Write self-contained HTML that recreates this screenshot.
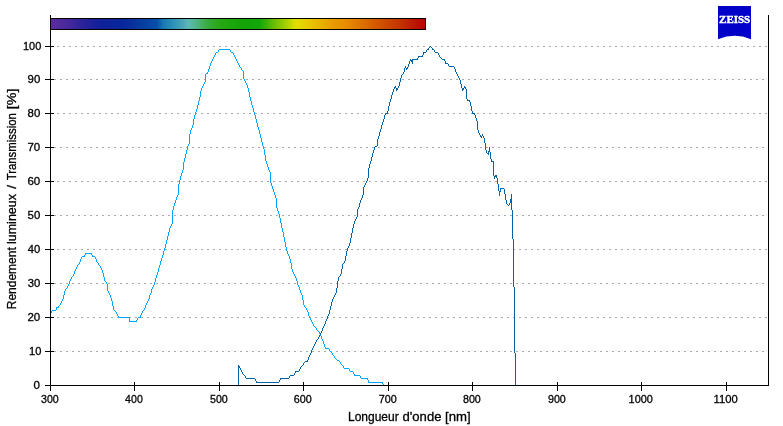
<!DOCTYPE html>
<html lang="fr">
<head>
<meta charset="utf-8">
<title>Rendement lumineux / Transmission</title>
<style>
html,body{margin:0;padding:0;background:#fff;}
body{width:783px;height:426px;overflow:hidden;}
svg{display:block;font-family:"Liberation Sans",sans-serif;}
.tick{font-size:11.4px;fill:#000;stroke:#000;stroke-width:0.3px;}
.title{font-size:13.1px;fill:#000;stroke:#000;stroke-width:0.3px;}
</style>
</head>
<body>
<svg width="783" height="426" viewBox="0 0 783 426">
<rect x="0" y="0" width="783" height="426" fill="#fff"/>
<defs>
<linearGradient id="spec" gradientUnits="userSpaceOnUse" x1="51" y1="0" x2="425" y2="0">
<stop offset="0.0000" stop-color="#5c2ca0"/>
<stop offset="0.0374" stop-color="#4a2a9c"/>
<stop offset="0.0775" stop-color="#30249a"/>
<stop offset="0.1310" stop-color="#10209a"/>
<stop offset="0.1979" stop-color="#08289c"/>
<stop offset="0.2594" stop-color="#0644a4"/>
<stop offset="0.2834" stop-color="#0850a8"/>
<stop offset="0.2995" stop-color="#1878b4"/>
<stop offset="0.3235" stop-color="#2890b8"/>
<stop offset="0.3503" stop-color="#48a4b8"/>
<stop offset="0.3663" stop-color="#5cb8b4"/>
<stop offset="0.3904" stop-color="#50b484"/>
<stop offset="0.4144" stop-color="#3cac48"/>
<stop offset="0.4439" stop-color="#2aa81c"/>
<stop offset="0.4786" stop-color="#1ca80c"/>
<stop offset="0.5187" stop-color="#12a408"/>
<stop offset="0.5588" stop-color="#14a808"/>
<stop offset="0.5882" stop-color="#58b808"/>
<stop offset="0.6283" stop-color="#a8d000"/>
<stop offset="0.6551" stop-color="#e0e000"/>
<stop offset="0.6818" stop-color="#e8cc00"/>
<stop offset="0.7246" stop-color="#e8b000"/>
<stop offset="0.7594" stop-color="#e89800"/>
<stop offset="0.7861" stop-color="#e88c00"/>
<stop offset="0.8155" stop-color="#e07c00"/>
<stop offset="0.8529" stop-color="#d86400"/>
<stop offset="0.8824" stop-color="#d05000"/>
<stop offset="0.9118" stop-color="#c84000"/>
<stop offset="0.9385" stop-color="#c03000"/>
<stop offset="0.9706" stop-color="#bc1800"/>
<stop offset="1.0000" stop-color="#b80400"/>
</linearGradient>
</defs>
<g shape-rendering="crispEdges" stroke="#aaaaaa" stroke-width="1" stroke-dasharray="2 4">
<line x1="54" y1="351.5" x2="768" y2="351.5"/>
<line x1="57" y1="317.5" x2="768" y2="317.5"/>
<line x1="54" y1="283.5" x2="768" y2="283.5"/>
<line x1="57" y1="249.5" x2="768" y2="249.5"/>
<line x1="54" y1="215.5" x2="768" y2="215.5"/>
<line x1="57" y1="181.5" x2="768" y2="181.5"/>
<line x1="54" y1="147.5" x2="768" y2="147.5"/>
<line x1="57" y1="113.5" x2="768" y2="113.5"/>
<line x1="54" y1="79.5" x2="768" y2="79.5"/>
<line x1="57" y1="46.5" x2="768" y2="46.5"/>
</g>
<rect x="50" y="18" width="376" height="12" fill="#000" shape-rendering="crispEdges"/>
<rect x="51" y="19" width="374" height="10" fill="url(#spec)" shape-rendering="crispEdges"/>
<path d="M51 311h1v2h-1zM52 310h1v1h-1zM53 310h1v1h-1zM54 310h1v1h-1zM55 310h1v1h-1zM56 307h1v3h-1zM57 307h1v1h-1zM58 306h1v2h-1zM59 305h1v1h-1zM60 303h1v2h-1zM61 301h1v2h-1zM62 299h1v2h-1zM63 295h1v4h-1zM64 291h1v4h-1zM65 289h1v2h-1zM66 288h1v1h-1zM67 286h1v2h-1zM68 284h1v2h-1zM69 281h1v3h-1zM70 279h1v2h-1zM71 277h1v2h-1zM72 276h1v1h-1zM73 274h1v2h-1zM74 271h1v3h-1zM75 269h1v2h-1zM76 267h1v2h-1zM77 265h1v2h-1zM78 264h1v1h-1zM79 262h1v2h-1zM80 259h1v3h-1zM81 257h1v2h-1zM82 256h1v1h-1zM83 256h1v1h-1zM84 255h1v2h-1zM85 253h1v2h-1zM86 253h1v1h-1zM87 253h1v1h-1zM88 253h1v1h-1zM89 253h1v1h-1zM90 253h1v1h-1zM91 253h1v2h-1zM92 255h1v2h-1zM93 256h1v1h-1zM94 256h1v1h-1zM95 257h1v2h-1zM96 259h1v3h-1zM97 262h1v1h-1zM98 263h1v2h-1zM99 265h1v1h-1zM100 266h1v2h-1zM101 268h1v2h-1zM102 270h1v3h-1zM103 273h1v4h-1zM104 277h1v4h-1zM105 281h1v1h-1zM106 282h1v2h-1zM107 284h1v7h-1zM108 291h1v2h-1zM109 293h1v2h-1zM110 295h1v3h-1zM111 298h1v3h-1zM112 301h1v5h-1zM113 306h1v4h-1zM114 310h1v1h-1zM115 311h1v1h-1zM116 312h1v2h-1zM117 314h1v2h-1zM118 316h1v2h-1zM119 317h1v1h-1zM120 317h1v1h-1zM121 317h1v1h-1zM122 317h1v1h-1zM123 317h1v1h-1zM124 317h1v1h-1zM125 317h1v1h-1zM126 317h1v1h-1zM127 317h1v1h-1zM128 317h1v1h-1zM129 317h1v5h-1zM130 321h1v1h-1zM131 321h1v1h-1zM132 321h1v1h-1zM133 321h1v1h-1zM134 321h1v1h-1zM135 321h1v1h-1zM136 320h1v2h-1zM137 318h1v2h-1zM138 317h1v1h-1zM139 317h1v1h-1zM140 315h1v3h-1zM141 313h1v2h-1zM142 311h1v2h-1zM143 310h1v1h-1zM144 308h1v2h-1zM145 305h1v3h-1zM146 303h1v2h-1zM147 301h1v2h-1zM148 299h1v2h-1zM149 295h1v4h-1zM150 293h1v2h-1zM151 289h1v4h-1zM152 287h1v2h-1zM153 285h1v2h-1zM154 282h1v3h-1zM155 278h1v4h-1zM156 275h1v3h-1zM157 272h1v3h-1zM158 268h1v4h-1zM159 265h1v3h-1zM160 261h1v4h-1zM161 258h1v3h-1zM162 255h1v3h-1zM163 251h1v4h-1zM164 248h1v3h-1zM165 244h1v4h-1zM166 240h1v4h-1zM167 236h1v4h-1zM168 232h1v4h-1zM169 228h1v4h-1zM170 226h1v2h-1zM171 224h1v2h-1zM172 210h1v14h-1zM173 206h1v4h-1zM174 203h1v3h-1zM175 200h1v3h-1zM176 197h1v3h-1zM177 195h1v2h-1zM178 184h1v11h-1zM179 180h1v4h-1zM180 176h1v4h-1zM181 173h1v3h-1zM182 170h1v3h-1zM183 162h1v8h-1zM184 158h1v4h-1zM185 154h1v4h-1zM186 150h1v4h-1zM187 146h1v4h-1zM188 144h1v2h-1zM189 134h1v10h-1zM190 130h1v4h-1zM191 128h1v2h-1zM192 125h1v3h-1zM193 119h1v6h-1zM194 115h1v4h-1zM195 112h1v3h-1zM196 109h1v3h-1zM197 105h1v4h-1zM198 101h1v4h-1zM199 97h1v4h-1zM200 91h1v6h-1zM201 88h1v3h-1zM202 86h1v2h-1zM203 84h1v2h-1zM204 82h1v2h-1zM205 74h1v8h-1zM206 73h1v1h-1zM207 72h1v2h-1zM208 69h1v3h-1zM209 66h1v3h-1zM210 63h1v3h-1zM211 61h1v2h-1zM212 59h1v2h-1zM213 57h1v2h-1zM214 55h1v2h-1zM215 53h1v2h-1zM216 52h1v1h-1zM217 52h1v1h-1zM218 50h1v2h-1zM219 49h1v1h-1zM220 49h1v1h-1zM221 49h1v1h-1zM222 49h1v1h-1zM223 49h1v1h-1zM224 49h1v1h-1zM225 49h1v1h-1zM226 49h1v1h-1zM227 49h1v1h-1zM228 49h1v1h-1zM229 49h1v1h-1zM230 50h1v2h-1zM231 52h1v1h-1zM232 52h1v1h-1zM233 53h1v2h-1zM234 55h1v2h-1zM235 57h1v2h-1zM236 59h1v2h-1zM237 61h1v2h-1zM238 63h1v2h-1zM239 65h1v2h-1zM240 67h1v1h-1zM241 68h1v2h-1zM242 70h1v1h-1zM243 71h1v8h-1zM244 79h1v2h-1zM245 81h1v2h-1zM246 83h1v2h-1zM247 85h1v3h-1zM248 88h1v4h-1zM249 92h1v5h-1zM250 97h1v4h-1zM251 101h1v4h-1zM252 105h1v3h-1zM253 108h1v4h-1zM254 112h1v3h-1zM255 115h1v4h-1zM256 119h1v4h-1zM257 123h1v4h-1zM258 127h1v3h-1zM259 130h1v4h-1zM260 134h1v4h-1zM261 138h1v4h-1zM262 142h1v4h-1zM263 146h1v3h-1zM264 149h1v6h-1zM265 155h1v6h-1zM266 161h1v3h-1zM267 164h1v3h-1zM268 167h1v3h-1zM269 170h1v2h-1zM270 172h1v11h-1zM271 183h1v3h-1zM272 186h1v3h-1zM273 189h1v3h-1zM274 192h1v3h-1zM275 195h1v3h-1zM276 198h1v10h-1zM277 208h1v3h-1zM278 211h1v3h-1zM279 214h1v4h-1zM280 218h1v5h-1zM281 223h1v5h-1zM282 228h1v4h-1zM283 232h1v5h-1zM284 237h1v5h-1zM285 242h1v5h-1zM286 247h1v4h-1zM287 251h1v3h-1zM288 254h1v2h-1zM289 256h1v3h-1zM290 259h1v4h-1zM291 263h1v6h-1zM292 269h1v3h-1zM293 272h1v2h-1zM294 274h1v2h-1zM295 276h1v2h-1zM296 278h1v3h-1zM297 281h1v4h-1zM298 285h1v2h-1zM299 287h1v3h-1zM300 290h1v3h-1zM301 293h1v2h-1zM302 295h1v5h-1zM303 300h1v5h-1zM304 305h1v2h-1zM305 307h1v1h-1zM306 308h1v2h-1zM307 310h1v2h-1zM308 312h1v4h-1zM309 316h1v2h-1zM310 318h1v2h-1zM311 320h1v2h-1zM312 322h1v2h-1zM313 324h1v2h-1zM314 326h1v1h-1zM315 327h1v1h-1zM316 328h1v2h-1zM317 330h1v1h-1zM318 331h1v1h-1zM319 332h1v2h-1zM320 334h1v2h-1zM321 336h1v3h-1zM322 339h1v2h-1zM323 341h1v3h-1zM324 344h1v3h-1zM325 347h1v2h-1zM326 348h1v1h-1zM327 348h1v1h-1zM328 348h1v1h-1zM329 349h1v2h-1zM330 351h1v1h-1zM331 352h1v1h-1zM332 353h1v2h-1zM333 355h1v1h-1zM334 356h1v2h-1zM335 358h1v1h-1zM336 359h1v1h-1zM337 360h1v1h-1zM338 360h1v1h-1zM339 361h1v1h-1zM340 362h1v2h-1zM341 364h1v1h-1zM342 365h1v1h-1zM343 366h1v2h-1zM344 368h1v1h-1zM345 368h1v1h-1zM346 368h1v1h-1zM347 368h1v1h-1zM348 368h1v1h-1zM349 369h1v2h-1zM350 371h1v1h-1zM351 371h1v1h-1zM352 371h1v1h-1zM353 372h1v2h-1zM354 374h1v2h-1zM355 375h1v1h-1zM356 375h1v1h-1zM357 375h1v1h-1zM358 375h1v1h-1zM359 375h1v1h-1zM360 376h1v2h-1zM361 378h1v1h-1zM362 378h1v1h-1zM363 378h1v1h-1zM364 378h1v1h-1zM365 378h1v1h-1zM366 378h1v1h-1zM367 378h1v2h-1zM368 380h1v3h-1zM369 382h1v1h-1zM370 382h1v1h-1zM371 382h1v1h-1zM372 382h1v1h-1zM373 382h1v1h-1zM374 382h1v1h-1zM375 382h1v1h-1zM376 382h1v1h-1zM377 382h1v1h-1zM378 382h1v1h-1zM379 382h1v1h-1zM380 382h1v1h-1zM381 382h1v1h-1zM382 382h1v2h-1zM383 384h1v2h-1zM384 385h1v1h-1zM385 385h1v1h-1zM386 385h1v1h-1zM387 385h1v1h-1zM388 385h1v1h-1z" fill="#00a5ff" shape-rendering="crispEdges"/>
<path d="M238 365h1v21h-1zM239 366h1v2h-1zM240 368h1v2h-1zM241 370h1v2h-1zM242 372h1v2h-1zM243 374h1v1h-1zM244 375h1v1h-1zM245 376h1v2h-1zM246 378h1v1h-1zM247 378h1v1h-1zM248 378h1v1h-1zM249 378h1v1h-1zM250 378h1v1h-1zM251 378h1v1h-1zM252 378h1v1h-1zM253 378h1v1h-1zM254 378h1v1h-1zM255 379h1v2h-1zM256 381h1v2h-1zM257 382h1v1h-1zM258 382h1v1h-1zM259 382h1v1h-1zM260 382h1v1h-1zM261 382h1v1h-1zM262 382h1v1h-1zM263 382h1v1h-1zM264 382h1v1h-1zM265 382h1v1h-1zM266 382h1v1h-1zM267 382h1v1h-1zM268 382h1v1h-1zM269 382h1v1h-1zM270 382h1v1h-1zM271 382h1v1h-1zM272 382h1v1h-1zM273 382h1v1h-1zM274 382h1v1h-1zM275 382h1v1h-1zM276 382h1v1h-1zM277 382h1v1h-1zM278 382h1v1h-1zM279 380h1v2h-1zM280 378h1v2h-1zM281 378h1v1h-1zM282 378h1v1h-1zM283 378h1v1h-1zM284 378h1v1h-1zM285 378h1v1h-1zM286 378h1v1h-1zM287 378h1v1h-1zM288 378h1v1h-1zM289 376h1v2h-1zM290 375h1v1h-1zM291 375h1v1h-1zM292 375h1v1h-1zM293 375h1v1h-1zM294 373h1v2h-1zM295 371h1v2h-1zM296 371h1v1h-1zM297 371h1v1h-1zM298 371h1v1h-1zM299 369h1v2h-1zM300 367h1v2h-1zM301 366h1v1h-1zM302 365h1v1h-1zM303 363h1v2h-1zM304 362h1v1h-1zM305 361h1v1h-1zM306 361h1v1h-1zM307 360h1v2h-1zM308 357h1v3h-1zM309 355h1v2h-1zM310 353h1v2h-1zM311 350h1v3h-1zM312 348h1v2h-1zM313 346h1v2h-1zM314 344h1v2h-1zM315 342h1v2h-1zM316 340h1v2h-1zM317 339h1v1h-1zM318 337h1v2h-1zM319 335h1v2h-1zM320 333h1v2h-1zM321 331h1v2h-1zM322 328h1v3h-1zM323 326h1v2h-1zM324 324h1v2h-1zM325 321h1v3h-1zM326 319h1v2h-1zM327 316h1v3h-1zM328 314h1v2h-1zM329 310h1v4h-1zM330 306h1v4h-1zM331 302h1v4h-1zM332 299h1v3h-1zM333 297h1v2h-1zM334 295h1v2h-1zM335 293h1v2h-1zM336 288h1v5h-1zM337 281h1v7h-1zM338 277h1v4h-1zM339 276h1v1h-1zM340 274h1v2h-1zM341 269h1v5h-1zM342 264h1v5h-1zM343 263h1v1h-1zM344 261h1v2h-1zM345 256h1v5h-1zM346 251h1v5h-1zM347 248h1v3h-1zM348 246h1v2h-1zM349 243h1v3h-1zM350 238h1v5h-1zM351 233h1v5h-1zM352 228h1v5h-1zM353 224h1v4h-1zM354 221h1v3h-1zM355 219h1v2h-1zM356 217h1v2h-1zM357 209h1v8h-1zM358 207h1v2h-1zM359 203h1v4h-1zM360 200h1v3h-1zM361 198h1v2h-1zM362 195h1v3h-1zM363 187h1v8h-1zM364 185h1v2h-1zM365 183h1v2h-1zM366 181h1v2h-1zM367 178h1v3h-1zM368 168h1v10h-1zM369 164h1v4h-1zM370 161h1v3h-1zM371 157h1v4h-1zM372 153h1v4h-1zM373 150h1v3h-1zM374 147h1v3h-1zM375 146h1v1h-1zM376 146h1v1h-1zM377 139h1v7h-1zM378 136h1v3h-1zM379 132h1v4h-1zM380 129h1v3h-1zM381 125h1v4h-1zM382 122h1v3h-1zM383 119h1v3h-1zM384 115h1v4h-1zM385 113h1v2h-1zM386 113h1v1h-1zM387 111h1v3h-1zM388 106h1v5h-1zM389 102h1v4h-1zM390 99h1v3h-1zM391 95h1v4h-1zM392 92h1v3h-1zM393 89h1v3h-1zM394 87h1v2h-1zM395 86h1v2h-1zM396 88h1v3h-1zM397 88h1v2h-1zM398 86h1v2h-1zM399 82h1v4h-1zM400 78h1v4h-1zM401 75h1v3h-1zM402 74h1v1h-1zM403 72h1v2h-1zM404 68h1v4h-1zM405 66h1v2h-1zM406 68h1v2h-1zM407 67h1v2h-1zM408 64h1v3h-1zM409 61h1v3h-1zM410 59h1v2h-1zM411 60h1v2h-1zM412 59h1v5h-1zM413 59h1v1h-1zM414 59h1v1h-1zM415 59h1v1h-1zM416 59h1v1h-1zM417 58h1v2h-1zM418 56h1v2h-1zM419 56h1v1h-1zM420 56h1v1h-1zM421 56h1v1h-1zM422 55h1v2h-1zM423 52h1v3h-1zM424 52h1v1h-1zM425 52h1v1h-1zM426 50h1v2h-1zM427 49h1v1h-1zM428 48h1v2h-1zM429 47h1v1h-1zM430 46h1v1h-1zM431 47h1v1h-1zM432 48h1v2h-1zM433 49h1v1h-1zM434 50h1v2h-1zM435 52h1v1h-1zM436 52h1v1h-1zM437 52h1v1h-1zM438 53h1v2h-1zM439 55h1v2h-1zM440 57h1v1h-1zM441 58h1v1h-1zM442 59h1v1h-1zM443 59h1v1h-1zM444 59h1v2h-1zM445 61h1v3h-1zM446 63h1v1h-1zM447 63h1v1h-1zM448 64h1v2h-1zM449 66h1v1h-1zM450 66h1v1h-1zM451 66h1v1h-1zM452 66h1v1h-1zM453 66h1v1h-1zM454 67h1v2h-1zM455 69h1v3h-1zM456 72h1v2h-1zM457 74h1v2h-1zM458 76h1v2h-1zM459 78h1v2h-1zM460 80h1v4h-1zM461 84h1v4h-1zM462 88h1v3h-1zM463 88h1v2h-1zM464 86h1v2h-1zM465 87h1v2h-1zM466 89h1v10h-1zM467 99h1v2h-1zM468 100h1v1h-1zM469 100h1v2h-1zM470 102h1v4h-1zM471 106h1v5h-1zM472 111h1v3h-1zM473 113h1v1h-1zM474 113h1v2h-1zM475 115h1v3h-1zM476 118h1v3h-1zM477 121h1v9h-1zM478 130h1v3h-1zM479 133h1v2h-1zM480 135h1v2h-1zM481 136h1v2h-1zM482 134h1v2h-1zM483 136h1v2h-1zM484 138h1v5h-1zM485 143h1v7h-1zM486 150h1v3h-1zM487 153h1v1h-1zM488 151h1v4h-1zM489 147h1v5h-1zM490 152h1v7h-1zM491 159h1v3h-1zM492 161h1v1h-1zM493 161h1v15h-1zM494 176h1v3h-1zM495 175h1v2h-1zM496 175h1v3h-1zM497 178h1v6h-1zM498 184h1v7h-1zM499 191h1v5h-1zM500 188h1v4h-1zM501 188h1v1h-1zM502 188h1v1h-1zM503 188h1v1h-1zM504 189h1v5h-1zM505 194h1v6h-1zM506 200h1v4h-1zM507 204h1v1h-1zM508 205h1v1h-1zM509 203h1v2h-1zM510 199h1v4h-1zM511 194h1v16h-1zM512 210h1v29h-1zM513 239h1v48h-1zM514 287h1v66h-1zM515 353h1v33h-1z" fill="#0064aa" shape-rendering="crispEdges"/>
<g shape-rendering="crispEdges" fill="#000">
<rect x="50" y="15" width="1" height="371"/>
<rect x="768" y="15" width="1" height="371"/>
<rect x="50" y="385" width="719" height="1"/>
<rect x="45" y="385" width="9" height="1"/>
<rect x="45" y="351" width="9" height="1"/>
<rect x="45" y="317" width="9" height="1"/>
<rect x="45" y="283" width="9" height="1"/>
<rect x="45" y="249" width="9" height="1"/>
<rect x="45" y="215" width="9" height="1"/>
<rect x="45" y="181" width="9" height="1"/>
<rect x="45" y="147" width="9" height="1"/>
<rect x="45" y="113" width="9" height="1"/>
<rect x="45" y="79" width="9" height="1"/>
<rect x="45" y="46" width="9" height="1"/>
<rect x="50" y="382" width="1" height="9"/>
<rect x="134" y="382" width="1" height="9"/>
<rect x="219" y="382" width="1" height="9"/>
<rect x="303" y="382" width="1" height="9"/>
<rect x="388" y="382" width="1" height="9"/>
<rect x="472" y="382" width="1" height="9"/>
<rect x="557" y="382" width="1" height="9"/>
<rect x="641" y="382" width="1" height="9"/>
<rect x="726" y="382" width="1" height="9"/>
</g>
<g class="tick">
<text x="33.54" y="389" textLength="6.46" lengthAdjust="spacingAndGlyphs">0</text>
<text x="29.07" y="355" textLength="12.34" lengthAdjust="spacingAndGlyphs">10</text>
<text x="27.44" y="321" textLength="12.79" lengthAdjust="spacingAndGlyphs">20</text>
<text x="27.65" y="287" textLength="12.57" lengthAdjust="spacingAndGlyphs">30</text>
<text x="27.76" y="253" textLength="12.47" lengthAdjust="spacingAndGlyphs">40</text>
<text x="27.55" y="219" textLength="12.68" lengthAdjust="spacingAndGlyphs">50</text>
<text x="27.44" y="185" textLength="12.79" lengthAdjust="spacingAndGlyphs">60</text>
<text x="27.44" y="151" textLength="12.79" lengthAdjust="spacingAndGlyphs">70</text>
<text x="27.55" y="117" textLength="12.68" lengthAdjust="spacingAndGlyphs">80</text>
<text x="27.55" y="83" textLength="12.68" lengthAdjust="spacingAndGlyphs">90</text>
<text x="22.99" y="50" textLength="18.27" lengthAdjust="spacingAndGlyphs">100</text>
<text x="41.03" y="403" textLength="17.77" lengthAdjust="spacingAndGlyphs">300</text>
<text x="125.12" y="403" textLength="17.67" lengthAdjust="spacingAndGlyphs">400</text>
<text x="209.93" y="403" textLength="17.87" lengthAdjust="spacingAndGlyphs">500</text>
<text x="293.83" y="403" textLength="17.97" lengthAdjust="spacingAndGlyphs">600</text>
<text x="378.83" y="403" textLength="17.97" lengthAdjust="spacingAndGlyphs">700</text>
<text x="462.93" y="403" textLength="17.87" lengthAdjust="spacingAndGlyphs">800</text>
<text x="547.93" y="403" textLength="17.87" lengthAdjust="spacingAndGlyphs">900</text>
<text x="628.59" y="403" textLength="24.20" lengthAdjust="spacingAndGlyphs">1000</text>
<text x="713.56" y="403" textLength="24.20" lengthAdjust="spacingAndGlyphs">1100</text>
</g>
<g class="title">
<text y="421"><tspan x="347.99" textLength="50.75" lengthAdjust="spacingAndGlyphs">Longueur</tspan> <tspan x="402.60" textLength="38.83" lengthAdjust="spacingAndGlyphs">d'onde</tspan> <tspan x="445.10" textLength="25.59" lengthAdjust="spacingAndGlyphs">[nm]</tspan></text>
<text transform="translate(16.4,0) rotate(-90)" y="0"><tspan x="-309.21" textLength="61.92" lengthAdjust="spacingAndGlyphs">Rendement</tspan> <tspan x="-244.06" textLength="50.08" lengthAdjust="spacingAndGlyphs">lumineux</tspan> <tspan x="-188.70" textLength="3.74" lengthAdjust="spacingAndGlyphs">/</tspan> <tspan x="-180.36" textLength="67.16" lengthAdjust="spacingAndGlyphs">Transmission</tspan> <tspan x="-109.18" textLength="20.59" lengthAdjust="spacingAndGlyphs">[%]</tspan></text>
</g>
<g>
<path d="M718,6 H751 V39.2 A42.9,42.9 0 0 0 718,39.2 Z" fill="#0000c8"/>
<text x="719.1" y="23" textLength="31.0" lengthAdjust="spacingAndGlyphs" style="font-family:'Liberation Serif',serif;font-weight:bold;font-size:10.5px;fill:#fff;stroke:#fff;stroke-width:0.4px;">ZEISS</text>
</g>
</svg>
</body>
</html>
